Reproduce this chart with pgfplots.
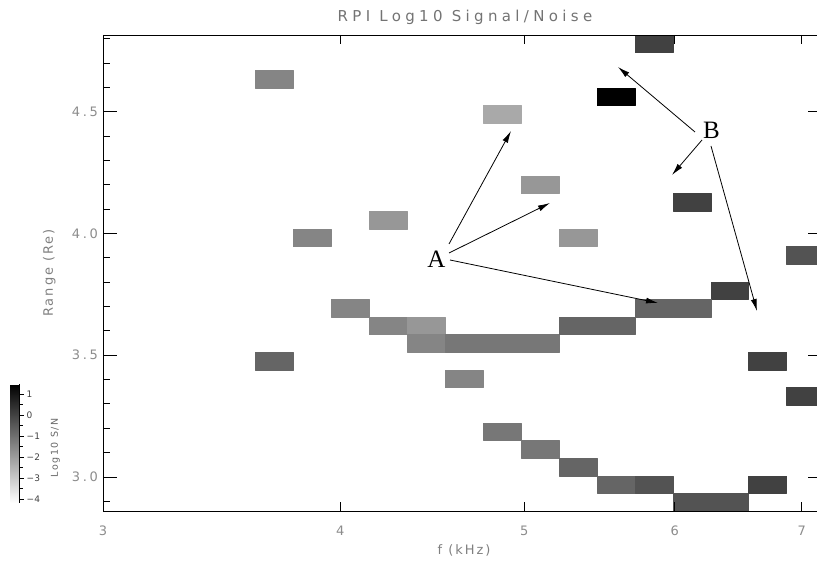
\documentclass[border=0pt]{standalone}
\usepackage{pgfplots}
\pgfplotsset{compat=1.18}
\usepackage{pgfplotstable}
\usepgfplotslibrary{patchplots}
\usetikzlibrary{arrows.meta}
\usepackage{fontspec}
\newfontfamily\titlefont{DejaVu Sans}[LetterSpace=29]
\newfontfamily\labfont{DejaVu Sans}[LetterSpace=15]
\newfontfamily\tickfont{DejaVu Sans}[LetterSpace=20]
\newfontfamily\cbfont{DejaVu Sans}
\newfontfamily\annfont{Liberation Serif}

% cells: 4 corners each (f in kHz, Range in Re, log10 S/N)
\pgfplotstableread{
x y c
3.6068 4.5980 -1.5
3.7768 4.5980 -1.5
3.7768 4.6704 -1.5
3.6068 4.6704 -1.5
3.7768 3.9464 -1.5
3.9548 3.9464 -1.5
3.9548 4.0188 -1.5
3.7768 4.0188 -1.5
4.1411 4.0188 -1.9
4.3363 4.0188 -1.9
4.3363 4.0912 -1.9
4.1411 4.0912 -1.9
5.7164 4.7428 0.0
5.9858 4.7428 0.0
5.9858 4.8152 0.0
5.7164 4.8152 0.0
5.4591 4.5256 1.45
5.7164 4.5256 1.45
5.7164 4.5980 1.45
5.4591 4.5980 1.45
4.7547 4.4532 -2.3
4.9788 4.4532 -2.3
4.9788 4.5256 -2.3
4.7547 4.5256 -2.3
4.9788 4.1636 -1.9
5.2134 4.1636 -1.9
5.2134 4.2360 -1.9
4.9788 4.2360 -1.9
5.2134 3.9464 -1.9
5.4591 3.9464 -1.9
5.4591 4.0188 -1.9
5.2134 4.0188 -1.9
5.9858 4.0912 0.0
6.2679 4.0912 0.0
6.2679 4.1636 0.0
5.9858 4.1636 0.0
6.8726 3.8740 -0.4
7.1965 3.8740 -0.4
7.1965 3.9464 -0.4
6.8726 3.9464 -0.4
3.9548 3.6568 -1.5
4.1411 3.6568 -1.5
4.1411 3.7292 -1.5
3.9548 3.7292 -1.5
4.1411 3.5844 -1.5
4.3363 3.5844 -1.5
4.3363 3.6568 -1.5
4.1411 3.6568 -1.5
4.3363 3.5844 -1.9
4.5407 3.5844 -1.9
4.5407 3.6568 -1.9
4.3363 3.6568 -1.9
4.3363 3.5120 -1.5
4.5407 3.5120 -1.5
4.5407 3.5844 -1.5
4.3363 3.5844 -1.5
4.5407 3.5120 -1.2
4.7547 3.5120 -1.2
4.7547 3.5844 -1.2
4.5407 3.5844 -1.2
4.7547 3.5120 -1.2
4.9788 3.5120 -1.2
4.9788 3.5844 -1.2
4.7547 3.5844 -1.2
4.9788 3.5120 -1.2
5.2134 3.5120 -1.2
5.2134 3.5844 -1.2
4.9788 3.5844 -1.2
3.6068 3.4396 -0.8
3.7768 3.4396 -0.8
3.7768 3.5120 -0.8
3.6068 3.5120 -0.8
4.5407 3.3672 -1.5
4.7547 3.3672 -1.5
4.7547 3.4396 -1.5
4.5407 3.4396 -1.5
6.2679 3.7292 0.0
6.5633 3.7292 0.0
6.5633 3.8016 0.0
6.2679 3.8016 0.0
5.7164 3.6568 -0.8
5.9858 3.6568 -0.8
5.9858 3.7292 -0.8
5.7164 3.7292 -0.8
5.9858 3.6568 -0.8
6.2679 3.6568 -0.8
6.2679 3.7292 -0.8
5.9858 3.7292 -0.8
5.2134 3.5844 -0.8
5.4591 3.5844 -0.8
5.4591 3.6568 -0.8
5.2134 3.6568 -0.8
5.4591 3.5844 -0.8
5.7164 3.5844 -0.8
5.7164 3.6568 -0.8
5.4591 3.6568 -0.8
6.5633 3.4396 0.0
6.8726 3.4396 0.0
6.8726 3.5120 0.0
6.5633 3.5120 0.0
6.8726 3.2948 0.0
7.1965 3.2948 0.0
7.1965 3.3672 0.0
6.8726 3.3672 0.0
4.7547 3.1500 -1.2
4.9788 3.1500 -1.2
4.9788 3.2224 -1.2
4.7547 3.2224 -1.2
4.9788 3.0776 -1.2
5.2134 3.0776 -1.2
5.2134 3.1500 -1.2
4.9788 3.1500 -1.2
5.2134 3.0052 -0.8
5.4591 3.0052 -0.8
5.4591 3.0776 -0.8
5.2134 3.0776 -0.8
5.4591 2.9328 -0.8
5.7164 2.9328 -0.8
5.7164 3.0052 -0.8
5.4591 3.0052 -0.8
5.7164 2.9328 -0.4
5.9858 2.9328 -0.4
5.9858 3.0052 -0.4
5.7164 3.0052 -0.4
5.9858 2.8604 -0.4
6.2679 2.8604 -0.4
6.2679 2.9328 -0.4
5.9858 2.9328 -0.4
6.2679 2.8604 -0.4
6.5633 2.8604 -0.4
6.5633 2.9328 -0.4
6.2679 2.9328 -0.4
6.5633 2.9328 0.0
6.8726 2.9328 0.0
6.8726 3.0052 0.0
6.5633 3.0052 0.0
}\cells

\begin{document}
\begin{tikzpicture}
\begin{axis}[name=ax, scale only axis, width=714pt, height=476pt,
  xmode=log, xmin=3, xmax=7.13, ymin=2.8604, ymax=4.8152,
  axis on top,
  axis line style={line width=0.9pt},
  xtick={3,4,5,6,7}, xticklabels={3,4,5,6,7}, xminorticks=false,
  ytick={3,3.5,4,4.5}, yticklabels={3.0,3.5,4.0,4.5},
  minor ytick={2.9,3.1,3.2,3.3,3.4,3.6,3.7,3.8,3.9,4.1,4.2,4.3,4.4,4.6,4.7,4.8},
  xtick pos=left, ytick pos=left,
  tick align=inside,
  major tick length=14pt, minor tick length=7pt,
  tick style={black, line width=0.9pt},
  major x tick style={draw=none},
  ticklabel style={font=\tickfont\fontsize{13}{15}\selectfont, text=black!45},
  yticklabel style={inner sep=0pt, xshift=-5pt},
  xticklabel style={inner sep=0pt, yshift=-15pt},
  colormap={bw}{gray(0cm)=(1); gray(1cm)=(0)},
  point meta min=-4.19, point meta max=1.47,
  colorbar,
  colorbar style={
    at={(parent axis.south west)}, anchor=south west,
    xshift=-101pt, yshift=8pt,
    scale only axis, width=9pt, height=119pt,
    axis x line=none, axis y line*=right,
    axis line style={line width=0.6pt},
    ytick={-4,-3,-2,-1,0,1}, yticklabels={−4,−3,−2,−1,0,1},
    minor ytick={-3.5,-2.5,-1.5,-0.5,0.5},
    tick align=outside, major tick length=4pt, minor tick length=3pt,
    tick style={black, line width=0.6pt},
    yticklabel style={font=\cbfont\fontsize{9}{10}\selectfont, text=black!75, inner sep=1pt, xshift=2pt},
  },
]
\addplot[patch, patch type=rectangle, shader=flat, point meta=\thisrow{c}] table {\cells};
\end{axis}
\begin{axis}[scale only axis, width=714pt, height=476pt, at={(ax.south west)}, anchor=south west,
  xmode=log, xmin=3, xmax=7.13, ymin=2.8604, ymax=4.8152,
  axis line style={draw=none},
  xtick={3,4,5,6,7}, ytick={3,3.5,4,4.5}, xminorticks=false, yminorticks=false,
  xticklabel=\empty, yticklabel=\empty,
  xtick pos=both, ytick pos=right, tick align=inside,
  major tick length=9pt, tick style={black, line width=0.9pt}]
\end{axis}
\begin{scope}[shift={([xshift=-103pt,yshift=35pt]ax.north west)}, x=1pt, y=-1pt]
  \node[font=\titlefont\fontsize{15}{17}\selectfont, text=black!55, anchor=base] at (465,22) {RPI Log10 Signal/Noise};
  \node[font=\labfont\fontsize{13}{15}\selectfont, text=black!50, anchor=base] at (464,555) {f (kHz)};
  \node[font=\labfont\fontsize{13}{15}\selectfont, text=black!50, anchor=base, rotate=90] at (53,273) {Range (Re)};
  \node[font=\labfont\fontsize{9.5}{11}\selectfont, text=black!60, anchor=base, rotate=90] at (58,448) {Log10 S/N};
  \node[font=\annfont\fontsize{25}{27}\selectfont, anchor=base] at (436.5,268) {A};
  \node[font=\annfont\fontsize{25}{27}\selectfont, anchor=base] at (711.5,139) {B};
  \begin{scope}[line width=0.8pt, -{Latex[length=12pt,width=6pt]}]
    \draw (449,244) -- (511,131);
    \draw (449,253) -- (550,203);
    \draw (450,260) -- (658,303);
    \draw (695,132) -- (618,67);
    \draw (702,140) -- (672,175);
    \draw (711,146) -- (757,311);
  \end{scope}
  \pgfresetboundingbox
  \path (0,0) rectangle (817,561);
\end{scope}
\end{tikzpicture}
\end{document}
